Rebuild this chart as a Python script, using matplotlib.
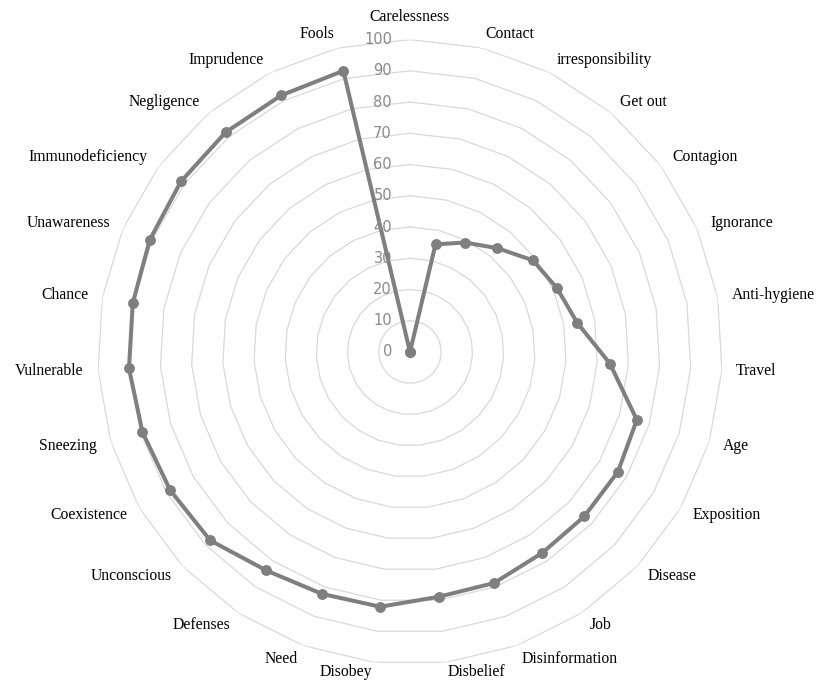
import numpy as np
import matplotlib
matplotlib.use("Agg")
import matplotlib.pyplot as plt

categories = ["Carelessness", "Contact", "irresponsibility", "Get out", "Contagion",
              "Ignorance", "Anti-hygiene", "Travel", "Age", "Exposition", "Disease",
              "Job", "Disinformation", "Disbelief", "Disobey", "Need", "Defenses",
              "Unconscious", "Coexistence", "Sneezing", "Vulnerable", "Chance",
              "Unawareness", "Immunodeficiency", "Negligence", "Imprudence", "Fools"]
values = [0, 35.4, 39.2, 43.4, 49.1, 51.3, 54.3, 64.1, 75.8, 76.8, 76.7,
          77.0, 78.7, 78.9, 82.1, 82.4, 83.7, 87.9, 88.6, 89.4, 90.1, 90.1,
          90.7, 91.4, 91.8, 91.9, 92.5]
rings = [10, 20, 30, 40, 50, 60, 70, 80, 90, 100]
tick_values = [0, 10, 20, 30, 40, 50, 60, 70, 80, 90, 100]

n = len(categories)
theta = np.arange(n) * 2 * np.pi / n
theta_closed = np.append(theta, theta[0])

fig = plt.figure(figsize=(8.2, 6.82), dpi=100)
ax = fig.add_axes([0.119, 0.0257, 0.762, 0.9164], projection="polar")
ax.set_theta_zero_location("N")
ax.set_theta_direction(-1)
ax.set_ylim(0, 100)
ax.grid(False)
ax.spines["polar"].set_visible(False)
ax.set_xticks([])
ax.set_yticks([])
ax.patch.set_alpha(0)

# polygon gridlines
for r in rings:
    ax.plot(theta_closed, [r] * (n + 1), color="#d9d9d9", lw=0.9, zorder=1)

# series
vals_closed = values + [values[0]]
ax.plot(theta_closed, vals_closed, color="#7f7f7f", lw=2.9, marker="o",
        markersize=6.8, zorder=3, clip_on=False)

# radial value labels
for v in tick_values:
    ax.annotate(str(v), xy=(0, v), xytext=(-13, 0), textcoords="offset points",
                ha="right", va="center", fontsize=10.5, color="#8a8a8a",
                family="DejaVu Sans", annotation_clip=False)

# category labels
for t, name in zip(theta, categories):
    s, c = np.sin(t), np.cos(t)
    if abs(s) < 1e-6:
        ax.text(t, 107.2, name, ha="center", va="center", fontsize=11.3,
                family="Liberation Serif")
    else:
        r = 103.2 if c < -0.95 else 104.6
        ax.text(t, r, name, ha="left" if s > 0 else "right", va="center",
                fontsize=11.3, family="Liberation Serif")

fig.savefig("out.png", dpi=100, facecolor="white")
